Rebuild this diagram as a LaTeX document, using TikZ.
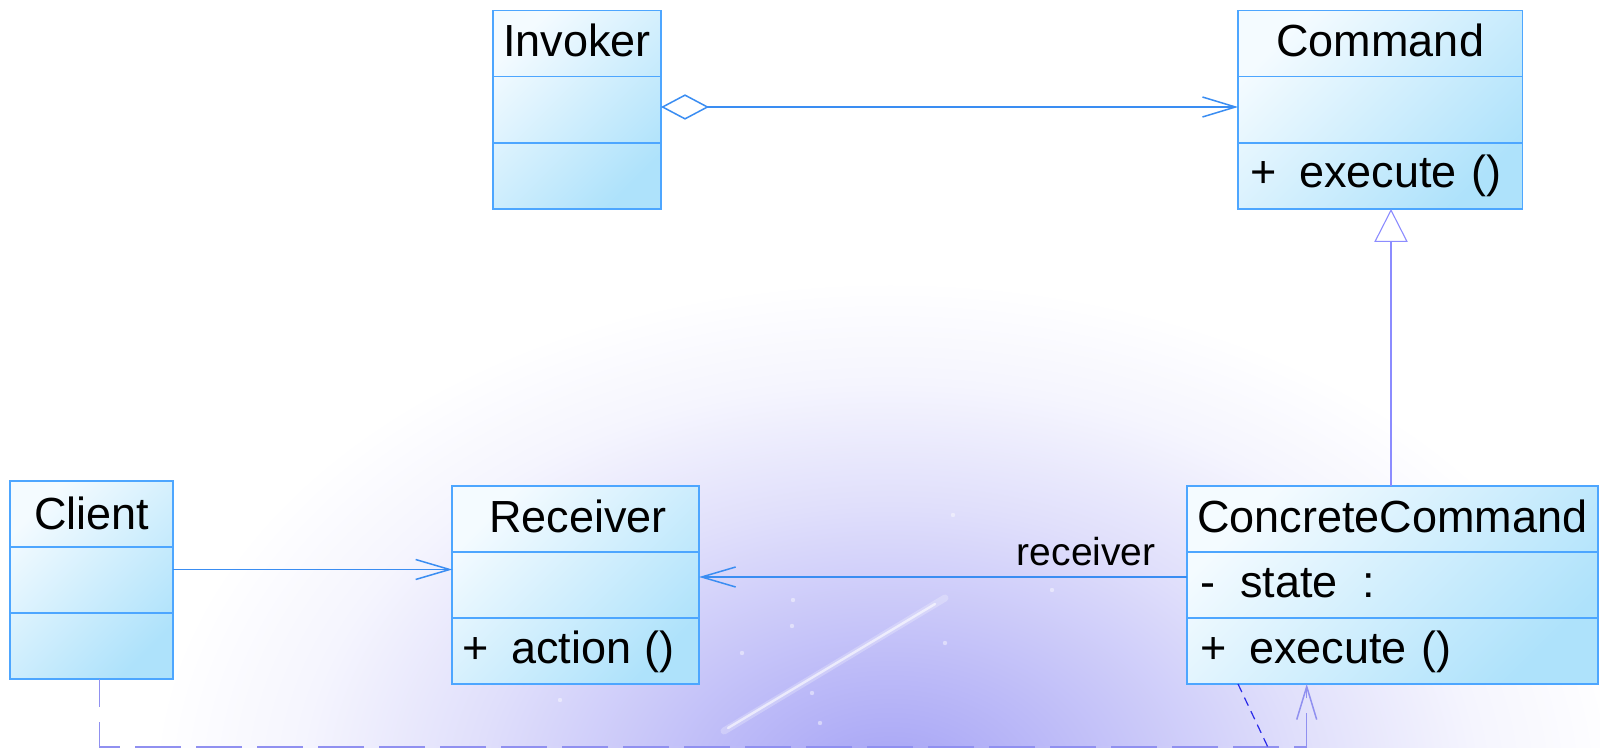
\documentclass[tikz,border=0pt]{standalone}
\usepackage{fontspec}
\setmainfont{Liberation Sans}
\usetikzlibrary{arrows.meta,calc}
\definecolor{boxlight}{HTML}{F4FBFF}
\definecolor{boxdark}{HTML}{AEE2FB}
\definecolor{boxborder}{HTML}{4DA6FF}
\definecolor{conn}{HTML}{3A8DF2}
\definecolor{genline}{HTML}{8C8CFF}
\definecolor{depline}{HTML}{9090F0}
\definecolor{diagline}{HTML}{2A2AE8}
\definecolor{glowA}{HTML}{A3A1F5}
\definecolor{glowB}{HTML}{BDBBF8}
\definecolor{glowC}{HTML}{E0DFFB}
\definecolor{glowD}{HTML}{F5F5FE}
\pgfdeclareradialshading{glowshade}{\pgfpoint{0bp}{0bp}}{color(0bp)=(glowA); color(6bp)=(glowB); color(14bp)=(glowC); color(20bp)=(glowD); color(25bp)=(white); color(50bp)=(white)}
\tikzset{
  classbox/.style={rectangle, draw=boxborder, line width=0.9pt, top color=boxlight, bottom color=boxdark, shading angle=45, inner sep=0pt, outer sep=0pt},
  divider/.style={draw=boxborder, line width=0.9pt},
  title/.style={anchor=base, inner sep=0pt, font=\fontsize{22.5pt}{27pt}\selectfont},
  member/.style={anchor=base west, inner sep=0pt, font=\fontsize{22.5pt}{27pt}\selectfont},
  rolelabel/.style={anchor=base east, inner sep=0pt, font=\fontsize{19.5pt}{23pt}\selectfont},
  assoc/.style={draw=conn, line width=0.75pt, -{Straight Barb[length=17pt,width=10pt]}},
  aggr/.style={draw=conn, line width=0.75pt, {Diamond[length=24pt,width=12.7pt,fill=white]}-{Straight Barb[length=16.5pt,width=10pt]}},
  general/.style={draw=genline, line width=0.55pt, -{Triangle[length=16.5pt,width=16.7pt,fill=white]}},
  depend/.style={draw=depline, line width=0.75pt, dash pattern=on 23pt off 7.5pt, dash phase=9pt, -{Straight Barb[length=16.5pt,width=10pt]}},
  diagdash/.style={draw=diagline, line width=0.6pt, dash pattern=on 4.5pt off 3pt}
}
\begin{document}
\begin{tikzpicture}[x=0.5pt,y=-0.5pt]
\useasboundingbox (0,0) rectangle (1600,748);
\clip (0,0) rectangle (1600,748);
% background
\fill[white] (0,0) rectangle (1600,748);
\shade[shading=glowshade] (890,790) ellipse [x radius=370pt, y radius=255pt];
\draw[white, opacity=0.25, line width=3.5pt, line cap=round] (724,731) -- (945,598);
\draw[white, opacity=0.6, line width=1.2pt, line cap=round] (728,728) -- (935,604);
\foreach \p in {(793,600),(792,626),(742,653),(945,643),(820,723),(812,693),(953,515),(1052,590),(560,700)}
  \fill[white, opacity=0.45] \p circle (1.1pt);

% class boxes
\node[classbox, minimum width=84pt, minimum height=99.25pt] (inv) at (577,109.75) {};
\draw[divider] (inv.west |- 0,76.5) -- (inv.east |- 0,76.5);
\draw[divider] (inv.west |- 0,142.7) -- (inv.east |- 0,142.7);
\node[title] (invT) at (577,57) {Invoker};

\node[classbox, minimum width=142.25pt, minimum height=99.25pt] (cmd) at (1380.25,109.75) {};
\draw[divider] (cmd.west |- 0,76.5) -- (cmd.east |- 0,76.5);
\draw[divider] (cmd.west |- 0,142.7) -- (cmd.east |- 0,142.7);
\node[title] (cmdT) at (1380.25,57) {Command};
\node[member] (cmdOp) at (1250,188) {+\hspace{0.5em}execute\hspace{0.32em}()};

\node[classbox, minimum width=81.3pt, minimum height=99pt] (cli) at (91.5,580) {};
\draw[divider] (cli.west |- 0,547) -- (cli.east |- 0,547);
\draw[divider] (cli.west |- 0,612.7) -- (cli.east |- 0,612.7);
\node[title] (cliT) at (92,529) {Client};

\node[classbox, minimum width=123.35pt, minimum height=99.15pt] (rcv) at (575.65,584.85) {};
\draw[divider] (rcv.west |- 0,551.7) -- (rcv.east |- 0,551.7);
\draw[divider] (rcv.west |- 0,617.7) -- (rcv.east |- 0,617.7);
\node[title] (rcvT) at (578,532) {Receiver};
\node[member] (rcvOp) at (462,663) {+\hspace{0.5em}action\hspace{0.3em}()};

\node[classbox, minimum width=205.5pt, minimum height=99.15pt] (cc) at (1392.5,584.85) {};
\draw[divider] (cc.west |- 0,551.7) -- (cc.east |- 0,551.7);
\draw[divider] (cc.west |- 0,617.7) -- (cc.east |- 0,617.7);
\node[title] (ccT) at (1392.5,532) {ConcreteCommand};
\node[member] (ccAt) at (1200,597) {-\hspace{0.55em}state\hspace{0.55em}:};
\node[member] (ccOp) at (1200,663) {+\hspace{0.5em}execute\hspace{0.32em}()};

% connectors
\draw[aggr] (inv.east |- 0,107) -- (cmd.west |- 0,107);
\draw[general] (cc.north -| 1391,0) -- (cmd.south -| 1391,0);
\draw[assoc] (cli.east |- 0,569.5) -- (rcv.west |- 0,569.5);
\draw[assoc] (cc.west |- 0,577) -- (rcv.east |- 0,577);
\node[rolelabel] (roleR) at (1156,565) {receiver};
\coordinate (depx) at (1306.7,747);
\draw[depend] (cli.south -| 99.3,0) |- (depx) -- (cc.south -| depx);
\coordinate (offb) at (1274,760);
\draw[diagdash] (cc.south -| 1238,0) -- (offb);
\end{tikzpicture}
\end{document}
